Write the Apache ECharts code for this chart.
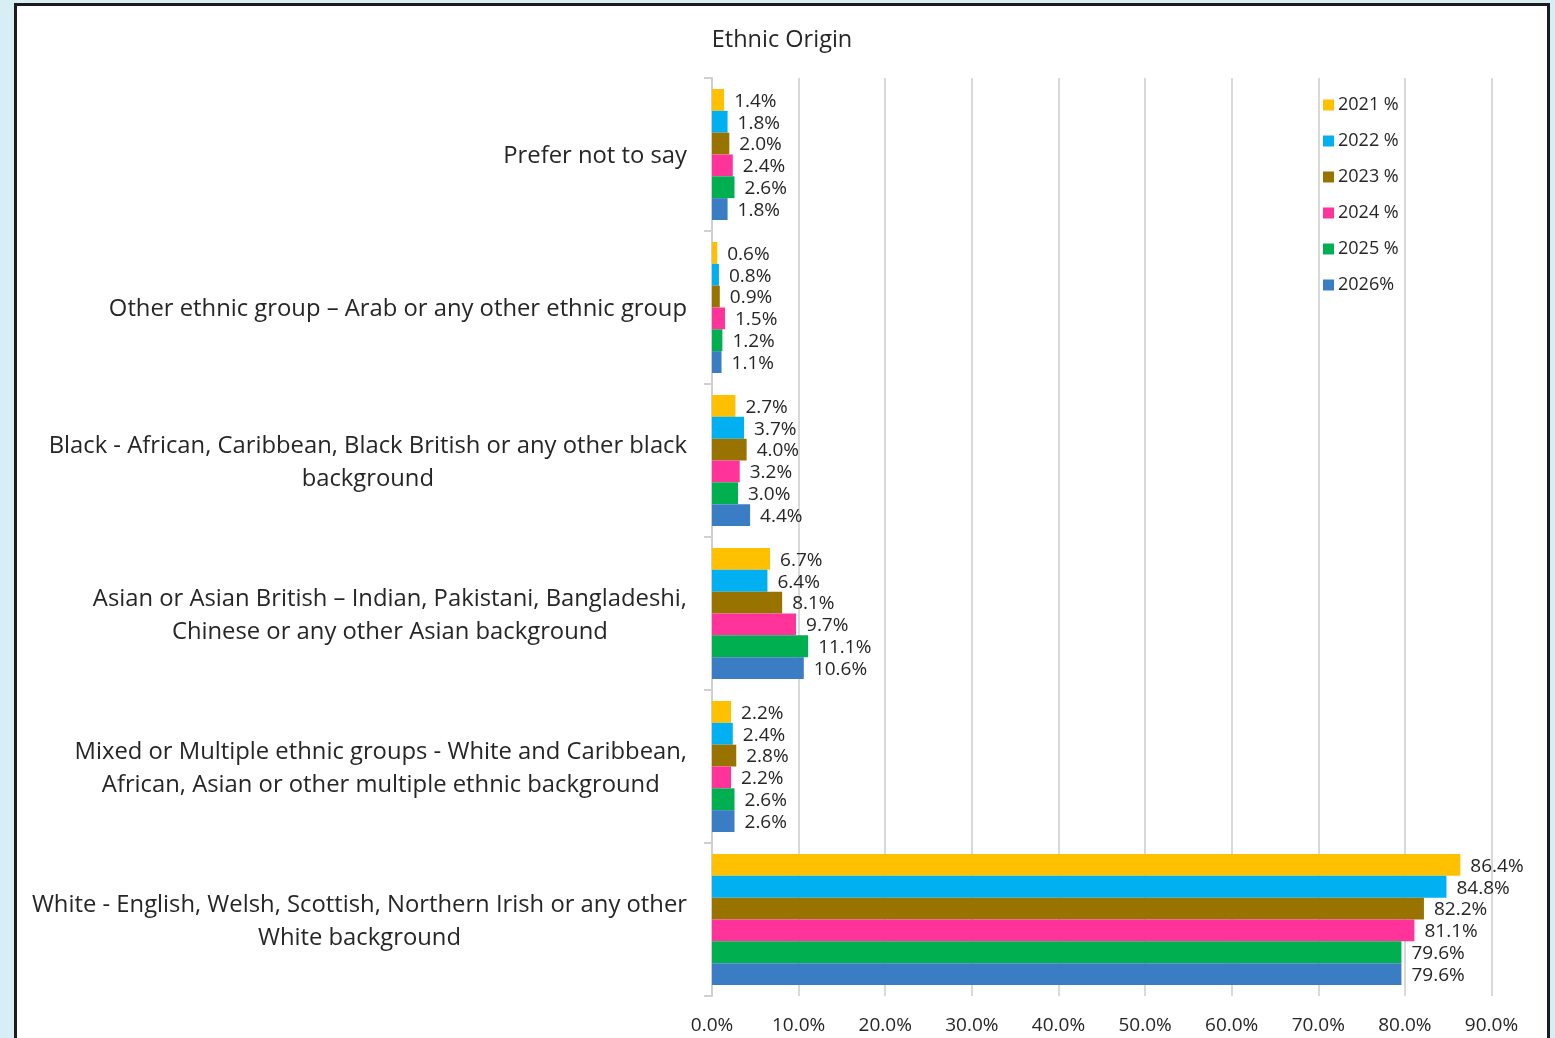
<!DOCTYPE html>
<html>
<head>
<meta charset="utf-8">
<title>Ethnic Origin</title>
<script src="https://cdn.jsdelivr.net/npm/echarts@6/dist/echarts.min.js"></script>
<style>
  html, body { margin: 0; padding: 0; width: 1555px; height: 1038px; overflow: hidden; background: #d6eef4; }
  #panel { position: absolute; left: 14px; top: 3px; width: 1536px; height: 1100px; background: #ffffff; border: 3px solid #1c1c1c; box-sizing: border-box; }
  #chart { position: absolute; left: 0; top: 0; width: 1555px; height: 1038px; }
</style>
</head>
<body>
<div id="panel"></div>
<div id="chart"></div>
<script>
// Category labels, top to bottom (line breaks as they wrap on the axis)
const categories = [
  'Prefer not to say',
  'Other ethnic group \u2013 Arab or any other ethnic group',
  'Black - African, Caribbean, Black British or any other black\nbackground',
  'Asian or Asian British \u2013 Indian, Pakistani, Bangladeshi,\nChinese or any other Asian background',
  'Mixed or Multiple ethnic groups - White and Caribbean,\nAfrican, Asian or other multiple ethnic background',
  'White - English, Welsh, Scottish, Northern Irish or any other\nWhite background'
];

// Survey year series names
const seriesNames = ['2021 %', '2022 %', '2023 %', '2024 %', '2025 %', '2026%'];

// Share of respondents (%) per category, one array per year
const values2021 = [1.4, 0.6, 2.7, 6.7, 2.2, 86.4];
const values2022 = [1.8, 0.8, 3.7, 6.4, 2.4, 84.8];
const values2023 = [2.0, 0.9, 4.0, 8.1, 2.8, 82.2];
const values2024 = [2.4, 1.5, 3.2, 9.7, 2.2, 81.1];
const values2025 = [2.6, 1.2, 3.0, 11.1, 2.6, 79.6];
const values2026 = [1.8, 1.1, 4.4, 10.6, 2.6, 79.6];

// Value axis ticks
const axisMin = 0;
const axisMax = 90;
const axisStep = 10;

const seriesColors = ['#ffc000', '#00b0f0', '#997300', '#ff3399', '#00b050', '#3a7dc4'];
const allValues = [values2021, values2022, values2023, values2024, values2025, values2026];

const FONT = '"Open Sans", "Noto Sans", sans-serif';
const TEXT = '#262626';

const chart = echarts.init(document.getElementById('chart'), null, { renderer: 'canvas' });

const option = {
  backgroundColor: 'transparent',
  animation: false,
  textStyle: { fontFamily: FONT, color: TEXT },
  title: {
    text: 'Ethnic Origin',
    left: 777,
    textAlign: 'center',
    top: 23,
    textStyle: { fontFamily: FONT, fontSize: 23.5, fontWeight: 'normal', color: TEXT }
  },
  legend: {
    orient: 'vertical',
    left: 1318,
    top: 90,
    itemWidth: 11,
    itemHeight: 11,
    itemGap: 16,
    icon: 'rect',
    data: seriesNames,
    textStyle: { fontFamily: FONT, fontSize: 18, color: TEXT, lineHeight: 20, padding: [0, 0, 0, -1] }
  },
  grid: { left: 712, top: 78, right: 63.5, bottom: 42 },
  xAxis: {
    type: 'value',
    min: axisMin,
    max: axisMax,
    interval: axisStep,
    axisLine: { show: false },
    axisTick: { show: false },
    splitLine: { lineStyle: { color: '#d9d9d9', width: 2 } },
    axisLabel: {
      margin: 20,
      fontFamily: FONT,
      fontSize: 19,
      color: TEXT,
      formatter: v => v.toFixed(1) + '%'
    }
  },
  yAxis: {
    type: 'category',
    inverse: true,
    data: categories,
    axisLine: { show: true, lineStyle: { color: '#d0d0d0', width: 2 } },
    axisTick: { show: true, length: 8, alignWithLabel: false, lineStyle: { color: '#d0d0d0', width: 2 } },
    axisLabel: {
      margin: 25,
      padding: [4, 0, 0, 0],
      formatter: v => v.split('\n').map(s => '{c|' + s + '}').join('\n'),
      rich: {
        c: { fontFamily: FONT, fontSize: 23.8, color: TEXT, lineHeight: 33, align: 'center' }
      }
    }
  },
  series: seriesNames.map((name, i) => ({
    name: name,
    type: 'bar',
    data: allValues[i],
    barGap: '0%',
    barCategoryGap: '14.4%',
    itemStyle: { color: seriesColors[i] },
    label: {
      show: true,
      position: 'right',
      distance: 10,
      offset: [0, 1.5],
      fontFamily: FONT,
      fontSize: 19,
      color: TEXT,
      formatter: p => p.value.toFixed(1) + '%'
    }
  }))
};

chart.setOption(option);
</script>
</body>
</html>
